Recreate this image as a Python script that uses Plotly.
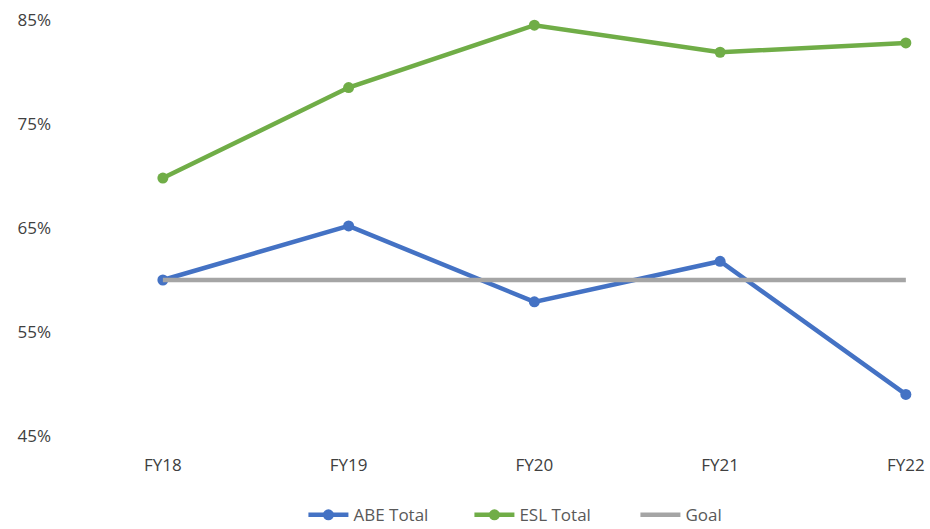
import plotly.graph_objects as go

categories = ["FY18", "FY19", "FY20", "FY21", "FY22"]
abe_total = [0.600, 0.652, 0.579, 0.618, 0.490]
esl_total = [0.698, 0.785, 0.845, 0.819, 0.828]
goal = [0.60, 0.60, 0.60, 0.60, 0.60]
y_ticks = [0.45, 0.55, 0.65, 0.75, 0.85]

fig = go.Figure()
fig.add_trace(go.Scatter(x=categories, y=abe_total, name="ABE Total", mode="lines+markers",
                         line=dict(color="#4472C4", width=4.5), marker=dict(size=11, color="#4472C4"),
                         cliponaxis=False))
fig.add_trace(go.Scatter(x=categories, y=esl_total, name="ESL Total", mode="lines+markers",
                         line=dict(color="#70AD47", width=4.5), marker=dict(size=11, color="#70AD47"),
                         cliponaxis=False))
fig.add_trace(go.Scatter(x=categories, y=goal, name="Goal", mode="lines",
                         line=dict(color="#A5A5A5", width=4.5), cliponaxis=False))

fig.update_layout(
    width=930, height=529,
    margin=dict(l=70, r=0, t=20, b=93),
    paper_bgcolor="white", plot_bgcolor="white",
    font=dict(family="Open Sans, Liberation Sans, sans-serif", size=17, color="#404040"),
    legend=dict(orientation="h", xref="container", yref="container", x=0.594, y=0.026,
                xanchor="center", yanchor="middle", font=dict(size=17, color="#595959"),
                entrywidth=111, entrywidthmode="pixels", itemwidth=40, tracegroupgap=0),
    showlegend=True,
)
fig.update_xaxes(type="category", range=[-0.5, 4.13], showgrid=False, zeroline=False,
                 showline=False, ticks="", ticklabelstandoff=17)
fig.update_yaxes(range=[0.45, 0.85], tickvals=y_ticks, tickformat=".0%", showgrid=False,
                 zeroline=False, showline=False, ticks="", ticklabelstandoff=18)

fig.write_html("out.html")
